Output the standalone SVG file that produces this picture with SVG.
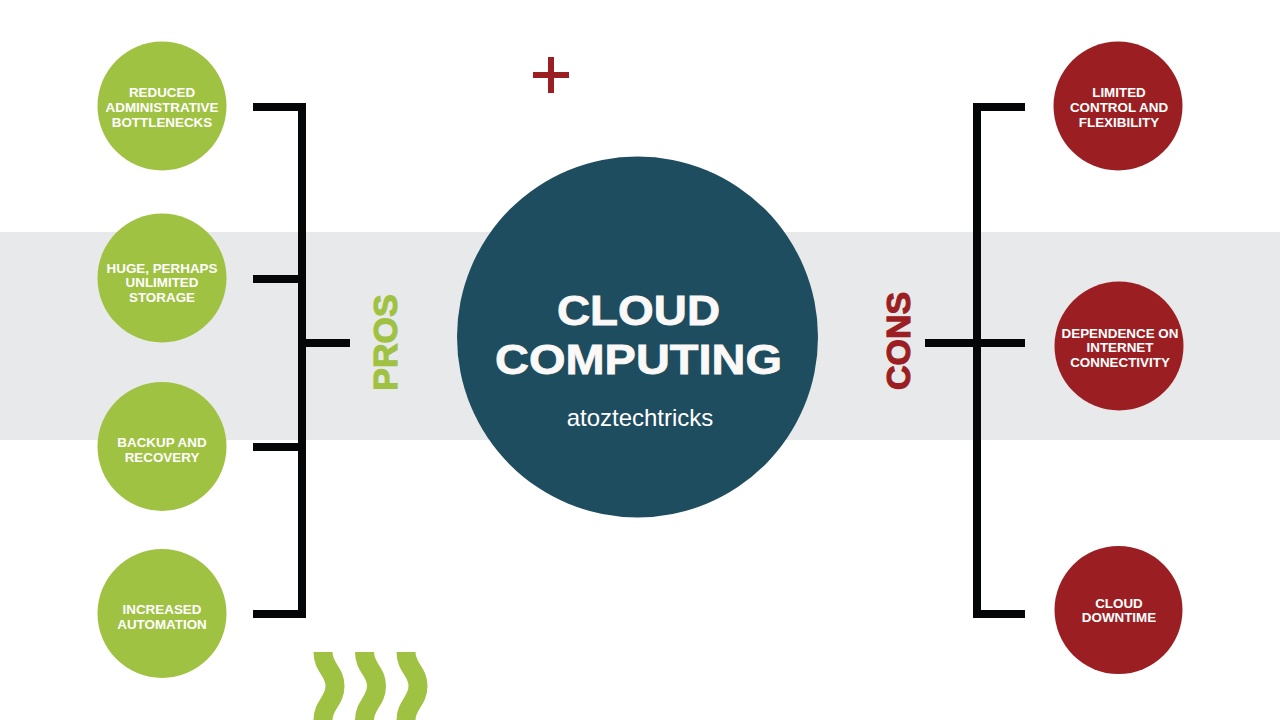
<svg xmlns="http://www.w3.org/2000/svg" width="1280" height="720" viewBox="0 0 1280 720">
  <style>
    .pro { fill: #a0c243; }
    .con { fill: #9b1f22; }
    .lbl { font-family: "Liberation Sans", Arial, sans-serif; font-weight: bold; font-size: 13.4px; fill: #ffffff; text-anchor: middle; }
    .bar { fill: #050607; }
    .side { font-family: "Liberation Sans", Arial, sans-serif; font-weight: bold; font-size: 34px; text-anchor: middle; stroke-width: 1.2; }
    .title { font-family: "Liberation Sans", Arial, sans-serif; font-weight: bold; font-size: 43px; fill: #fbf9f7; stroke: #fbf9f7; stroke-width: 0.8; text-anchor: middle; }
    .sq { fill: none; stroke: #a0c243; stroke-width: 19; stroke-linecap: butt; }
  </style>
  <rect x="0" y="0" width="1280" height="720" fill="#ffffff"/>
  <rect x="0" y="232" width="1280" height="208" fill="#e8e9eb"/>

  <!-- decorations -->
  <g id="plus" class="con">
    <rect x="533" y="72" width="36" height="6"/>
    <rect x="548" y="57" width="6" height="36"/>
  </g>
  <g id="squiggles" class="sq">
    <path d="M323,652 C323,668 335,671 335,686 C335,701 323,705 323,720"/>
    <path d="M364.5,652 C364.5,668 376.5,671 376.5,686 C376.5,701 364.5,705 364.5,720"/>
    <path d="M406,652 C406,668 418,671 418,686 C418,701 406,705 406,720"/>
  </g>

  <!-- connectors -->
  <g id="connectors" class="bar">
    <rect x="298" y="103" width="8" height="515"/>
    <rect x="253" y="103" width="53" height="8"/>
    <rect x="253" y="275" width="53" height="8"/>
    <rect x="253" y="443" width="53" height="8"/>
    <rect x="253" y="610" width="53" height="8"/>
    <rect x="298" y="339" width="52" height="8"/>
    <rect x="973" y="103" width="8" height="515"/>
    <rect x="973" y="103" width="52" height="8"/>
    <rect x="925" y="339" width="100" height="8"/>
    <rect x="973" y="610" width="52" height="8"/>
  </g>

  <g id="pros-label">
    <text class="side" fill="#a0c243" stroke="#a0c243" transform="translate(397,342.5) rotate(-90)">PROS</text>
  </g>
  <g id="cons-label">
    <text class="side" fill="#9b1f22" stroke="#9b1f22" transform="translate(910,341) rotate(-90)">CONS</text>
  </g>

  <g id="center">
    <circle cx="637.5" cy="337" r="180.5" fill="#1e4d5f"/>
    <text class="title" x="638.5" y="325" textLength="163" lengthAdjust="spacingAndGlyphs">CLOUD</text>
    <text class="title" x="638.5" y="374" textLength="287" lengthAdjust="spacingAndGlyphs">COMPUTING</text>
    <text x="640" y="426" font-family="'Liberation Sans', Arial, sans-serif" font-size="24" fill="#ffffff" text-anchor="middle">atoztechtricks</text>
  </g>

  <g id="pro1">
    <circle class="pro" cx="162" cy="106" r="64.5"/>
    <text class="lbl" x="162" y="96.5">REDUCED</text>
    <text class="lbl" x="162" y="111.5">ADMINISTRATIVE</text>
    <text class="lbl" x="162" y="126.5">BOTTLENECKS</text>
  </g>
  <g id="pro2">
    <circle class="pro" cx="162" cy="278" r="64.5"/>
    <text class="lbl" x="162" y="272.5">HUGE, PERHAPS</text>
    <text class="lbl" x="162" y="287">UNLIMITED</text>
    <text class="lbl" x="162" y="301.5">STORAGE</text>
  </g>
  <g id="pro3">
    <circle class="pro" cx="162" cy="446.5" r="64.5"/>
    <text class="lbl" x="162" y="446.5">BACKUP AND</text>
    <text class="lbl" x="162" y="461.5">RECOVERY</text>
  </g>
  <g id="pro4">
    <circle class="pro" cx="162" cy="613.5" r="64.5"/>
    <text class="lbl" x="162" y="613.5">INCREASED</text>
    <text class="lbl" x="162" y="628.5">AUTOMATION</text>
  </g>

  <g id="con1">
    <circle class="con" cx="1118" cy="106" r="64.5"/>
    <text class="lbl" x="1119" y="96.5">LIMITED</text>
    <text class="lbl" x="1119" y="111.5">CONTROL AND</text>
    <text class="lbl" x="1119" y="126.5">FLEXIBILITY</text>
  </g>
  <g id="con2">
    <circle class="con" cx="1119" cy="346" r="64.5"/>
    <text class="lbl" x="1120" y="337.5">DEPENDENCE ON</text>
    <text class="lbl" x="1120" y="352">INTERNET</text>
    <text class="lbl" x="1120" y="366.5">CONNECTIVITY</text>
  </g>
  <g id="con3">
    <circle class="con" cx="1118.5" cy="610" r="64"/>
    <text class="lbl" x="1119" y="607.5">CLOUD</text>
    <text class="lbl" x="1119" y="621.5">DOWNTIME</text>
  </g>
</svg>
